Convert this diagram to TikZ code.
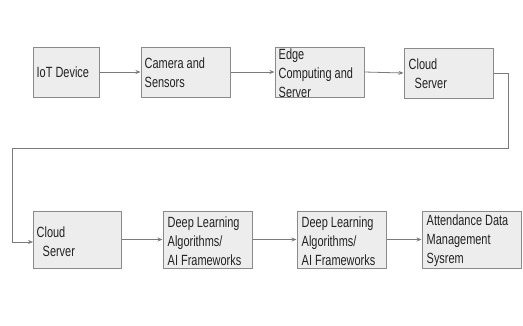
\documentclass[tikz,border=0pt]{standalone}
\usepackage{fontspec}
\setmainfont{Liberation Sans}[FakeStretch=0.74]
\usetikzlibrary{arrows.meta}
\definecolor{boxfill}{HTML}{EDEDED}
\definecolor{boxline}{HTML}{8A8A8A}
\definecolor{txt}{HTML}{222222}
\definecolor{wire}{HTML}{7A7A7A}
\begin{document}
\begin{tikzpicture}[x=1pt,y=-1pt,
  box/.style={draw=boxline,fill=boxfill,line width=1pt,inner sep=0pt,minimum height=50pt},
  lbl/.style={anchor=west,align=left,inner sep=0pt,text=txt,font=\fontsize{14.8}{19}\selectfont},
  arr/.style={draw=wire,line width=0.8pt,-{Stealth[length=5pt,width=4pt]}},
  wireline/.style={draw=wire,line width=0.8pt}]
\useasboundingbox (0,0) rectangle (523,325);
% top row
\node[box,minimum width=66pt] (b1) at (66,72) {};
\node[box,minimum width=89pt] (b2) at (185.5,72) {};
\node[box,minimum width=89pt] (b3) at (319.5,72) {};
\node[box,minimum width=89pt] (b4) at (448.5,73) {};
% bottom row
\node[box,minimum width=88pt,minimum height=57pt] (c1) at (77,239.5) {};
\node[box,minimum width=89pt,minimum height=57pt] (c2) at (207.5,239.5) {};
\node[box,minimum width=89pt,minimum height=57pt] (c3) at (341.5,239.5) {};
\node[box,minimum width=99pt,minimum height=57pt] (c4) at (471.5,239.5) {};
% labels
\node[lbl] (t1) at ([xshift=4pt]b1.west) {IoT Device};
\node[lbl] (t2) at ([xshift=4pt,yshift=-0.5pt]b2.west) {Camera and\\Sensors};
\node[lbl] (t3) at ([xshift=4pt,yshift=-1.5pt]b3.west) {Edge\\Computing and\\Server};
\node[lbl] (t4) at ([xshift=5pt,yshift=-1pt]b4.west) {Cloud\\\hspace*{6pt}Server};
\node[lbl] (u1) at ([xshift=4pt,yshift=-2.5pt]c1.west) {Cloud\\\hspace*{6pt}Server};
\node[lbl] (u2) at ([xshift=5pt,yshift=-1.5pt]c2.west) {Deep Learning\\Algorithms/\\AI Frameworks};
\node[lbl] (u3) at ([xshift=5pt,yshift=-1.5pt]c3.west) {Deep Learning\\Algorithms/\\AI Frameworks};
\node[lbl] (u4) at ([xshift=5pt,yshift=-1.5pt]c4.west) {Attendance Data\\Management\\Sysrem};
% connectors
\draw[arr] (b1.east) -- (b2.west);
\draw[arr] (b2.east) -- (b3.west);
\draw[arr] (b3.east) -- (b4.west);
\coordinate (k1) at (508,73);
\coordinate (k2) at (508,148);
\coordinate (k3) at (12,148);
\coordinate (k4) at (12,242);
\coordinate (k5) at (33,242);
\draw[wireline] (b4.east) -- (k1) -- (k2) -- (k3) -- (k4);
\draw[arr] (k4) -- (k5);
\draw[arr] (c1.east) -- (c2.west);
\draw[arr] (c2.east) -- (c3.west);
\draw[arr] (c3.east) -- (c4.west);
\end{tikzpicture}
\end{document}
